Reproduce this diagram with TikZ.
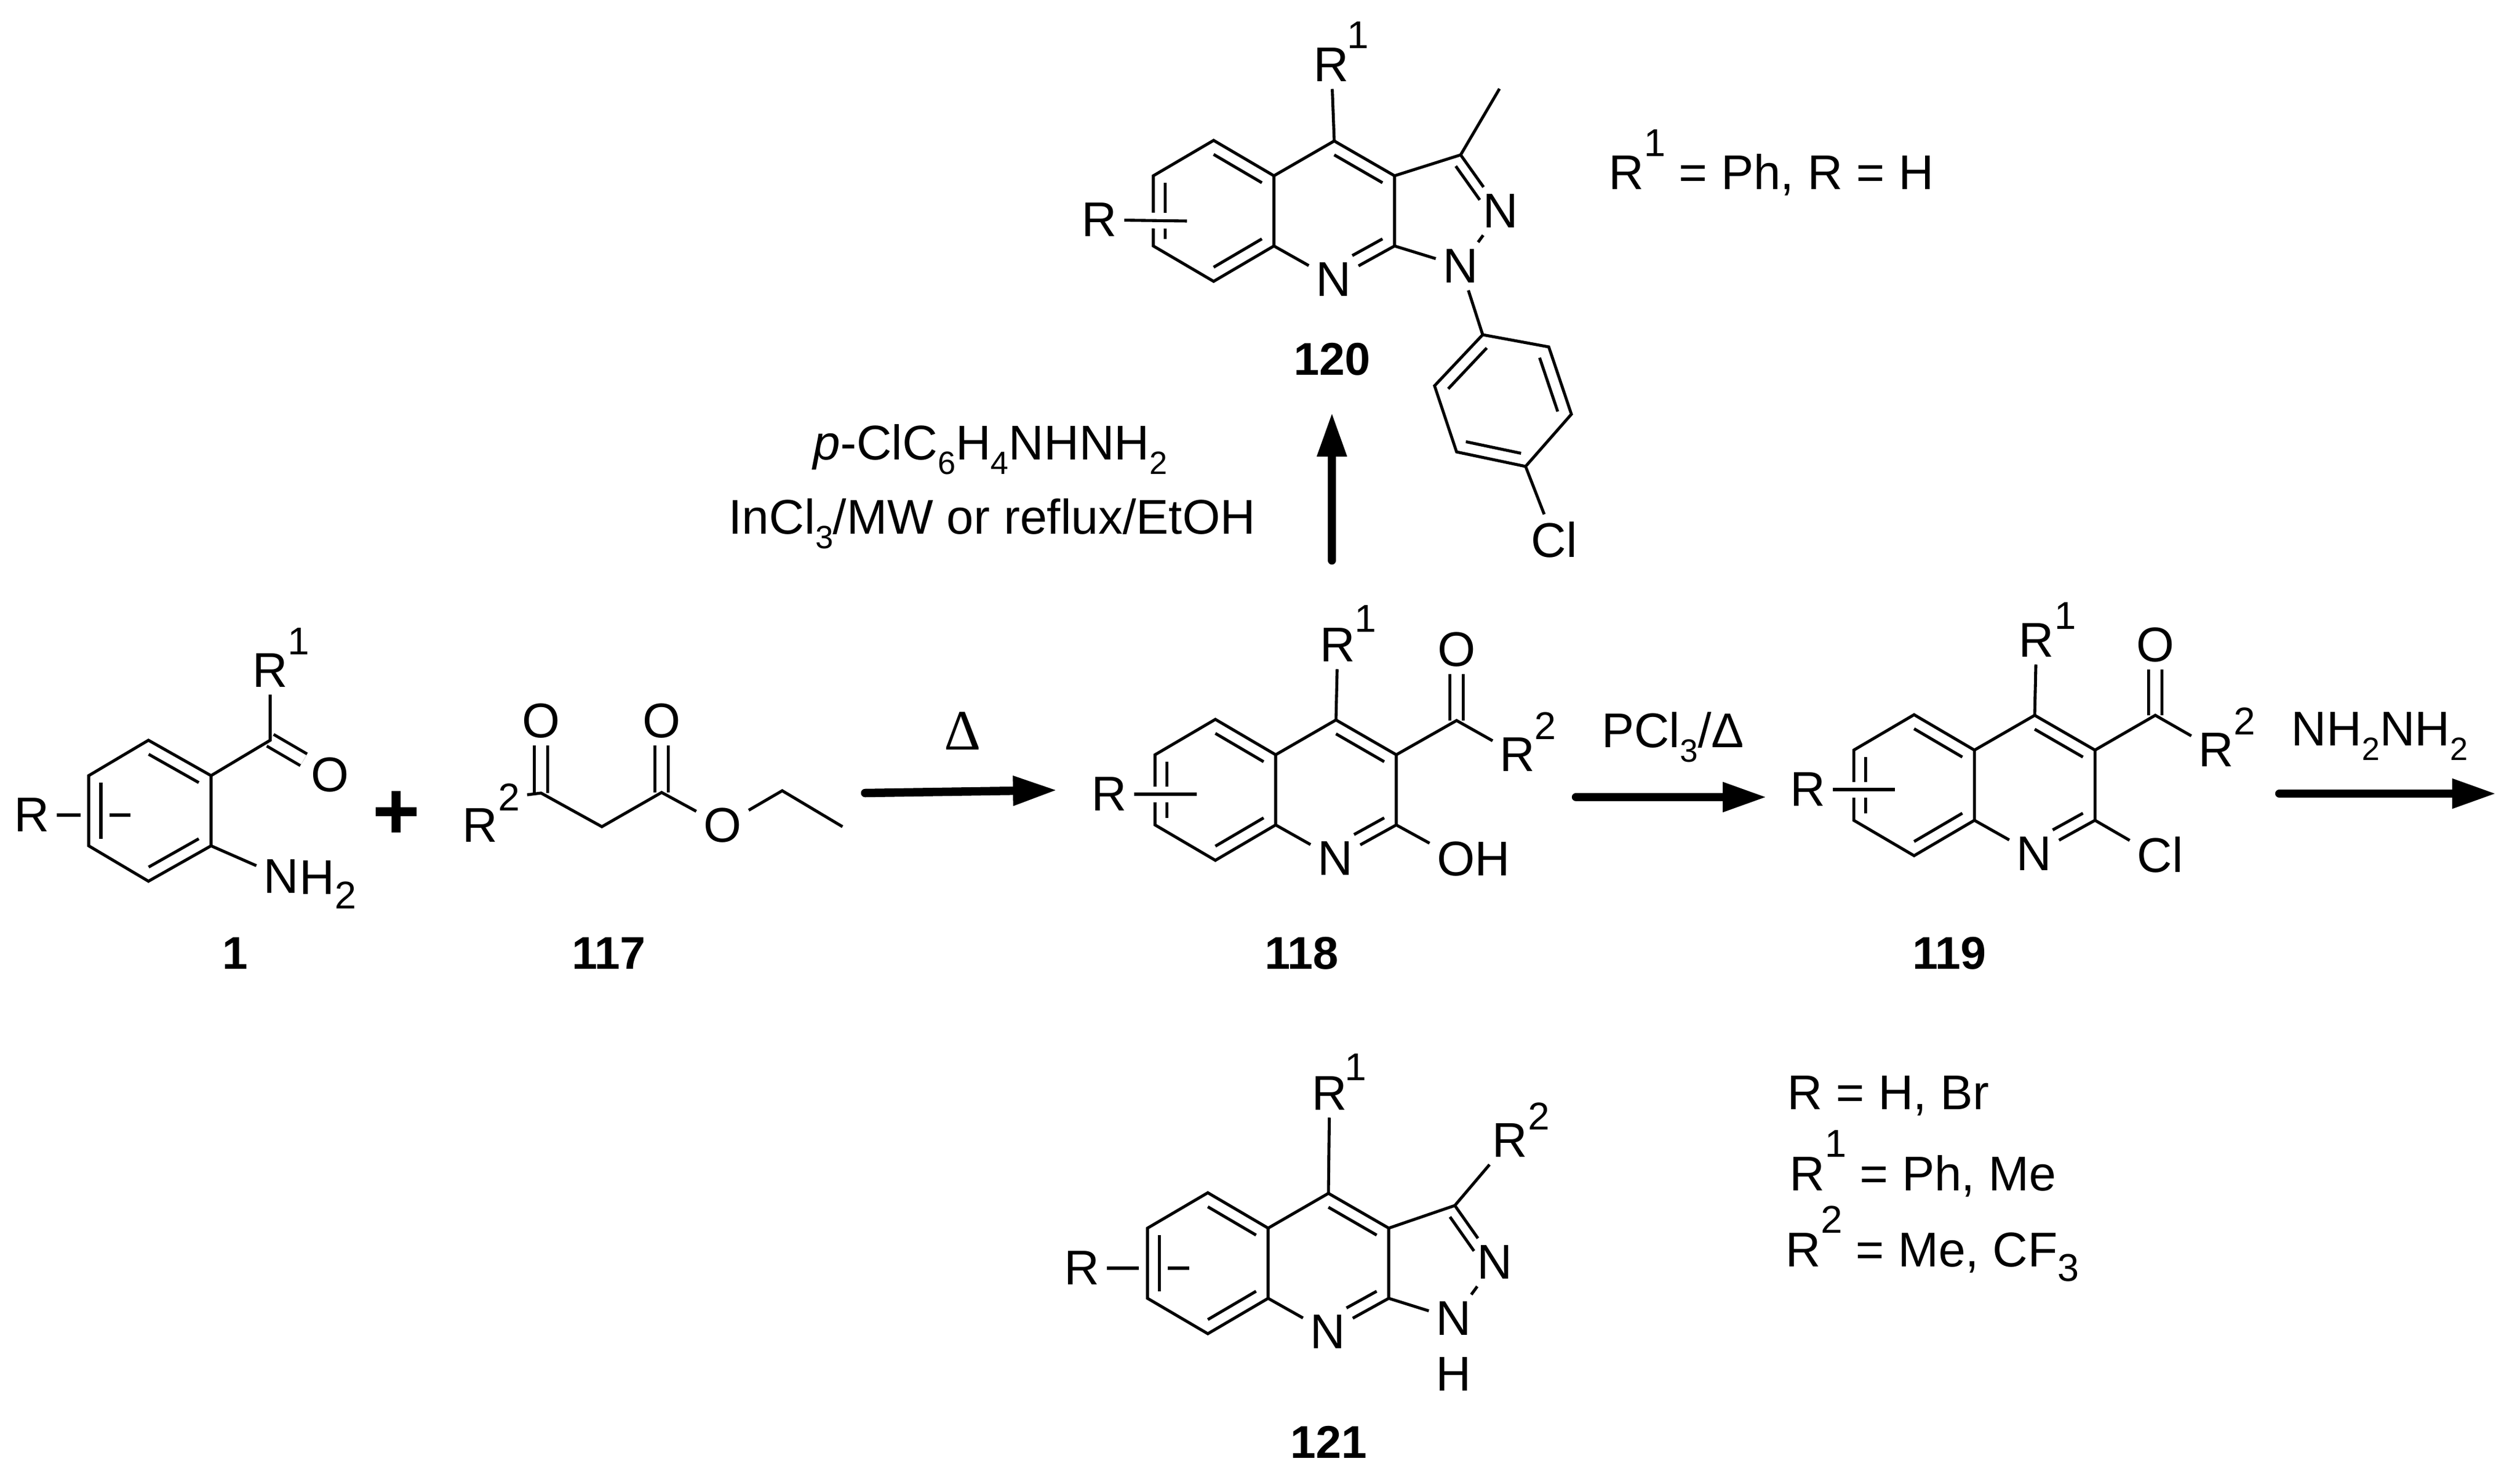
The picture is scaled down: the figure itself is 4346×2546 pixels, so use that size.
\documentclass[tikz,border=0pt]{standalone}
\usepackage{fontspec}
\setmainfont{Liberation Sans}
\newfontfamily\deltafont{Liberation Serif}
\usetikzlibrary{arrows.meta,calc}

\tikzset{
    atom/.style={font=\fontsize{23.9}{28}\selectfont,inner sep=0.1cm},
    supnum/.style={font=\fontsize{19}{22}\selectfont,inner sep=0.1cm},
    cmpd/.style={font=\fontsize{22.5}{26}\selectfont\bfseries,inner sep=0.1cm},
    lbl/.style={font=\fontsize{23.9}{28}\selectfont,inner sep=0pt,anchor=base},
    dbl/.style={double,double distance=0.18cm},
    subst/.style={preaction={draw,white,line width=0.27cm}},
    rxn/.style={line width=0.145cm,line cap=round,-{Triangle[length=0.76cm,width=0.48cm]}}
}

\newcommand{\sbs}[1]{\raisebox{-0.25cm}{\fontsize{15.8}{16}\selectfont #1}}
\newcommand{\sbl}[1]{\raisebox{-0.25cm}{\fontsize{19}{19}\selectfont #1}}
\newcommand{\sps}[1]{\raisebox{0.57cm}{\fontsize{19}{19}\selectfont #1}}
\newcommand{\inbond}[3]{\draw ($(#1)!.2!(#3)$) -- ($(#2)!.2!(#3)$);}

% quinoline core, #2 is the upper fusion atom
\newcommand{\quincore}[2]{
    \begin{scope}[shift={(#2)}]
        \coordinate (#1a) at (0,0);
        \coordinate (#1b) at (-104,-61);
        \coordinate (#1c) at (-208,0);
        \coordinate (#1d) at (-208,121);
        \coordinate (#1e) at (-104,182);
        \coordinate (#1f) at (0,121);
        \coordinate (#1g) at (104,-60);
        \coordinate (#1h) at (208,0);
        \coordinate (#1i) at (208,121);
        \coordinate (#1u) at (-104,60);
        \coordinate (#1v) at (104,60);
        \node[atom] (#1n) at (103,179) {N};
    \end{scope}
    \draw (#1a) -- (#1b) -- (#1c) -- (#1d) -- (#1e) -- (#1f) -- cycle;
    \draw (#1a) -- (#1g) -- (#1h) -- (#1i) -- (#1n) -- (#1f);
    \inbond{#1a}{#1b}{#1u}
    \inbond{#1c}{#1d}{#1u}
    \inbond{#1e}{#1f}{#1u}
    \inbond{#1g}{#1h}{#1v}
    \draw ($(#1i)!.2!(#1v)$) -- ($(#1i)!.62!(#1n)!.2!(#1v)$);
}

\begin{document}
\begin{tikzpicture}[x=0.01cm,y=-0.01cm,line width=1.45pt]
    \useasboundingbox (0,0) rectangle (4346,2546);

    % 1
    \coordinate (m1a) at (364,1337);
    \coordinate (m1b) at (256,1276);
    \coordinate (m1c) at (153,1337);
    \coordinate (m1d) at (153,1458);
    \coordinate (m1e) at (256,1519);
    \coordinate (m1f) at (364,1458);
    \coordinate (m1u) at (258,1397);
    \coordinate (m1k) at (466,1276);
    \node[atom] (m1r) at (55,1405) {R};
    \node[atom] (m1ra) at (466,1156) {R};
    \node[supnum] (m1rs) at (515,1106) {1};
    \node[atom] (m1o) at (569,1336) {O};
    \node[atom] (m1n) at (485,1511) {N};
    \node[lbl,anchor=base west] (m1h) at (514,1541) {H\sbl{2}};
    \node[cmpd] (m1l) at (405,1643) {1};
    \coordinate (m1s) at (139,1405);
    \coordinate (m1t) at (189,1405);
    \coordinate (m1w) at (225,1405);
    \draw[dbl] (m1k) -- (m1o);
    \draw (m1a) -- (m1b) -- (m1c) -- (m1d) -- (m1e) -- (m1f) -- cycle;
    \inbond{m1a}{m1b}{m1u}
    \inbond{m1c}{m1d}{m1u}
    \inbond{m1e}{m1f}{m1u}
    \draw (m1a) -- (m1k) -- (m1ra);
    \draw (m1f) -- (m1n);
    \draw (m1r) -- (m1s);
    \draw (m1t) -- (m1w);

    \node[font=\fontsize{40}{44}\selectfont\bfseries] (plus) at (684,1405) {+};

    % 117
    \coordinate (m117k) at (933,1367);
    \coordinate (m117m) at (1038,1425);
    \coordinate (m117p) at (1141,1366);
    \coordinate (m117q) at (1349,1363);
    \coordinate (m117t) at (1453,1425);
    \node[atom] (m117r) at (828,1423) {R};
    \node[supnum] (m117s) at (878,1374) {2};
    \node[atom] (m117o) at (933,1243) {O};
    \node[atom] (m117e) at (1141,1243) {O};
    \node[atom] (m117x) at (1246,1423) {O};
    \node[cmpd] (m117l) at (1050,1643) {117};
    \draw[dbl] (m117k) -- (m117o);
    \draw[dbl] (m117p) -- (m117e);
    \draw (m117s) -- (m117k) -- (m117m) -- (m117p) -- (m117x) -- (m117q) -- (m117t);

    % first arrow
    \coordinate (ra1) at (1492,1367);
    \coordinate (ra2) at (1823,1362);
    \draw[rxn] (ra1) -- (ra2);
    \node[font=\deltafont\fontsize{28}{30}\selectfont] (heat) at (1660,1260) {Δ};

    % 118
    \quincore{m118}{2200,1301}
    \coordinate (m118k) at (2512,1242);
    \coordinate (m118s) at (2064,1369);
    \node[atom] (m118r) at (1913,1369) {R};
    \node[atom] (m118ra) at (2307,1112) {R};
    \node[supnum] (m118rs) at (2355,1067) {1};
    \node[atom] (m118o) at (2512,1120) {O};
    \node[atom] (m118rb) at (2617,1301) {R};
    \node[supnum] (m118rt) at (2665,1251) {2};
    \node[atom] (m118oh) at (2541,1481) {OH};
    \node[cmpd] (m118l) at (2245,1643) {118};
    \draw[dbl] (m118k) -- (m118o);
    \draw (m118g) -- (m118ra);
    \draw (m118h) -- (m118k) -- (m118rb);
    \draw (m118i) -- (m118oh.160);
    \draw[subst] (m118r) -- (m118s);

    % second arrow
    \coordinate (rb1) at (2718,1374);
    \coordinate (rb2) at (3047,1374);
    \draw[rxn] (rb1) -- (rb2);
    \node[lbl] (rbt) at (2885,1288) {PCl\sbs{3}/Δ};

    % 119
    \quincore{m119}{3405,1293}
    \coordinate (m119k) at (3717,1233);
    \coordinate (m119s) at (3268,1361);
    \node[atom] (m119r) at (3118,1361) {R};
    \node[atom] (m119ra) at (3512,1104) {R};
    \node[supnum] (m119rs) at (3562,1062) {1};
    \node[atom] (m119o) at (3717,1112) {O};
    \node[atom] (m119rb) at (3822,1293) {R};
    \node[supnum] (m119rt) at (3871,1243) {2};
    \node[atom] (m119cl) at (3725,1473) {Cl};
    \node[cmpd] (m119l) at (3362,1643) {119};
    \draw[dbl] (m119k) -- (m119o);
    \draw (m119g) -- (m119ra);
    \draw (m119h) -- (m119k) -- (m119rb);
    \draw (m119i) -- (m119cl.155);
    \draw[subst] (m119r) -- (m119s);

    % third arrow
    \coordinate (rc1) at (3931,1368);
    \coordinate (rc2) at (4305,1368);
    \draw[rxn] (rc1) -- (rc2);
    \node[lbl] (rct) at (4104,1285) {NH\sbs{2}NH\sbs{2}};

    % 120
    \quincore{m120}{2197,303}
    \coordinate (m120k) at (2519,267);
    \coordinate (m120m) at (2586,153);
    \coordinate (m120p) at (2477,364);
    \coordinate (m120s) at (2047,381);
    \node[atom] (m120r) at (1896,379) {R};
    \node[atom] (m120ra) at (2296,112) {R};
    \node[supnum] (m120rs) at (2342,61) {1};
    \node[atom] (m120x) at (2588,364) {N};
    \node[atom] (m120y) at (2519,459) {N};
    \node[cmpd] (m120l) at (2297,619) {120};
    \coordinate (m120q1) at (2557,577);
    \coordinate (m120q2) at (2671,598);
    \coordinate (m120q3) at (2710,714);
    \coordinate (m120q4) at (2631,804);
    \coordinate (m120q5) at (2512,779);
    \coordinate (m120q6) at (2474,665);
    \coordinate (m120qc) at (2592,691);
    \node[atom] (m120cl) at (2680,930) {Cl};
    \draw (m120g) -- (m120ra);
    \draw (m120h) -- (m120k) -- (m120m);
    \draw (m120k) -- (m120x) -- (m120y) -- (m120i);
    \draw ($(m120k)!.2!(m120p)$) -- ($(m120k)!.75!(m120x)!.2!(m120p)$);
    \draw (m120y) -- (m120q1);
    \draw (m120q1) -- (m120q2) -- (m120q3) -- (m120q4) -- (m120q5) -- (m120q6) -- cycle;
    \inbond{m120q1}{m120q6}{m120qc}
    \inbond{m120q2}{m120q3}{m120qc}
    \inbond{m120q4}{m120q5}{m120qc}
    \draw (m120q4) -- (m120cl);
    \draw[subst] (m120r) -- (m120s);
    \node[lbl,anchor=base west] (m120t) at (2772,327) {R\sps{1} = Ph, R = H};

    % upward arrow and its reagents
    \coordinate (rd1) at (2297,966);
    \coordinate (rd2) at (2297,711);
    \draw[rxn] (rd1) -- (rd2);
    \node[lbl] (rdt) at (1708,792) {\textit{p}-ClC\sbs{6}H\sbs{4}NHNH\sbs{2}};
    \node[lbl] (rdu) at (1711,920) {InCl\sbs{3}/MW or reflux/EtOH};

    % 121
    \quincore{m121}{2187,2117}
    \coordinate (m121k) at (2509,2078);
    \coordinate (m121p) at (2467,2176);
    \coordinate (m121s) at (1964,2186);
    \coordinate (m121t) at (2014,2186);
    \coordinate (m121w) at (2051,2186);
    \node[atom] (m121r) at (1866,2186) {R};
    \node[atom] (m121ra) at (2293,1885) {R};
    \node[supnum] (m121rs) at (2338,1839) {1};
    \node[atom] (m121rb) at (2604,1966) {R};
    \node[supnum] (m121rt) at (2654,1924) {2};
    \node[atom] (m121x) at (2578,2176) {N};
    \node[atom] (m121y) at (2507,2273) {N};
    \node[atom] (m121z) at (2507,2369) {H};
    \node[cmpd] (m121l) at (2291,2486) {121};
    \draw (m121g) -- (m121ra);
    \draw (m121h) -- (m121k) -- (m121rb);
    \draw (m121k) -- (m121x) -- (m121y) -- (m121i);
    \draw ($(m121k)!.2!(m121p)$) -- ($(m121k)!.75!(m121x)!.2!(m121p)$);
    \draw (m121r) -- (m121s);
    \draw (m121t) -- (m121w);

    % substituent list
    \node[lbl,anchor=base west] (lista) at (3080,1912) {R = H, Br};
    \node[lbl,anchor=base west] (listb) at (3084,2052) {R\sps{1} = Ph, Me};
    \node[lbl,anchor=base west] (listc) at (3077,2183) {R\sps{2} = Me, CF\sbl{3}};
\end{tikzpicture}
\end{document}
